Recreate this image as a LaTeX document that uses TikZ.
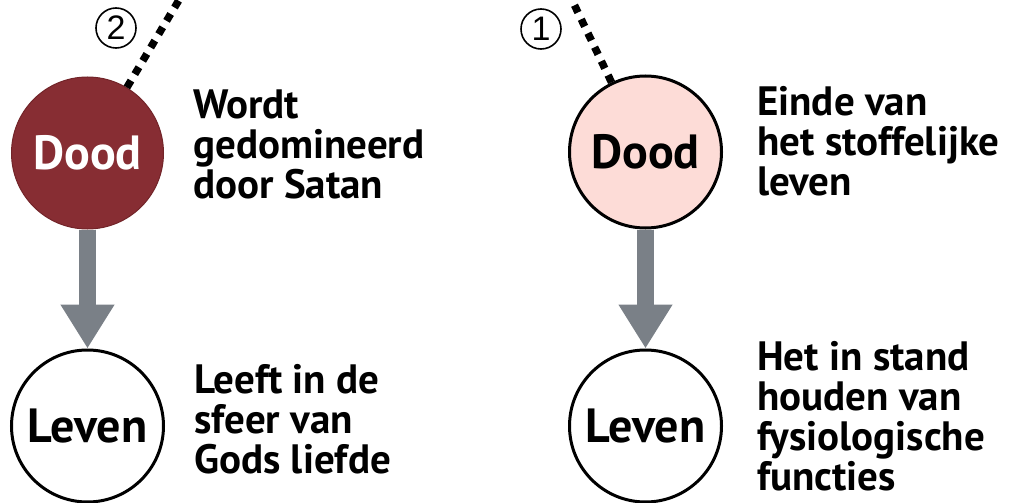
\documentclass[tikz,border=0pt]{standalone}
\usepackage{fontspec}
\setmainfont{PT Sans}
\newfontfamily\numfont{Liberation Sans}
\usetikzlibrary{arrows.meta}
\definecolor{doodrood}{HTML}{872D33}
\definecolor{doodrand}{HTML}{722429}
\definecolor{doodroze}{HTML}{FDDCD7}
\definecolor{pijlgrijs}{HTML}{7A8087}
\tikzset{
  bol/.style={circle, minimum size=152, inner sep=0, line width=3,
    font=\fontsize{48}{48}\selectfont\bfseries},
  uitleg/.style={anchor=base west, align=left, inner sep=0,
    font=\fontsize{41}{40}\selectfont\bfseries},
  stip/.style={line width=7.5, dash pattern=on 8 off 7.5},
  pijl/.style={pijlgrijs, line width=17, -{Triangle[width=51pt, length=44pt]}},
  nummer/.style={circle, draw, line width=1.6, minimum size=40, inner sep=0,
    font=\fontsize{34}{34}\numfont}
}

\begin{document}
\begin{tikzpicture}[x=1pt, y=-1pt]
\useasboundingbox (0,0) rectangle (1012,503);

% Circles: death and life, left and right
\node[bol, fill=doodrood, draw=doodrand, line width=1, text=white] (doodL) at (87.5,153) {Dood};
\node[bol, fill=doodroze, draw=black] (doodR) at (645.5,152) {Dood};
\node[bol, fill=white, draw=black] (levenL) at (87.5,426) {Leven};
\node[bol, fill=white, draw=black] (levenR) at (645.5,426) {Leven};

% Grey arrows from death to life
\draw[pijl] (doodL) -- (levenL);
\draw[pijl] (doodR) -- (levenR);

% Dotted lines leaving the top of the picture
\coordinate (bovenL) at (179,0);
\coordinate (bovenR) at (572,0);
\draw[stip] (doodL.59.6) -- (bovenL);
\draw[stip] (doodR.116) -- (bovenR);

% Circled numbers
\node[nummer] (twee) at (116,28) {2};
\node[nummer] (een) at (541,29) {1};

% Explanations beside the circles (placed at the last baseline)
\node[uitleg] (tekstDL) at (193,198) {Wordt\\gedomineerd\\door Satan};
\node[uitleg] (tekstDR) at (757,195) {Einde van\\het stoffelijke\\leven};
\node[uitleg] (tekstLL) at (194,473) {Leeft in de\\sfeer van\\Gods liefde};
\node[uitleg] (tekstLR) at (757,490) {Het in stand\\houden van\\fysiologische\\functies};

\end{tikzpicture}
\end{document}
